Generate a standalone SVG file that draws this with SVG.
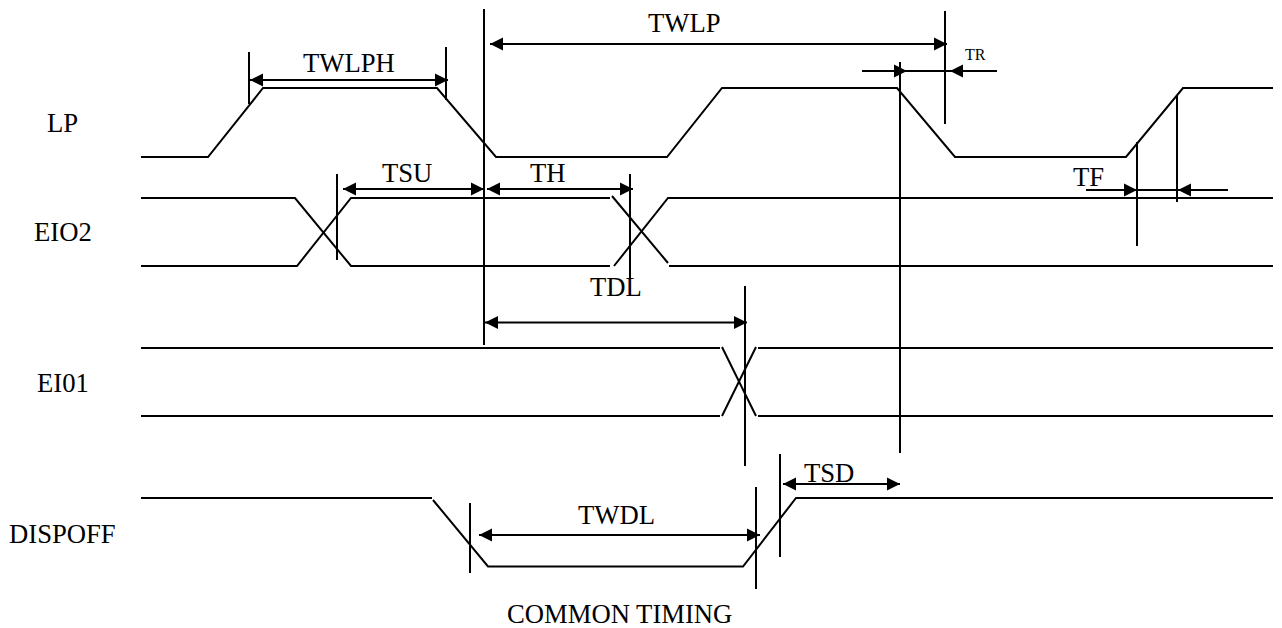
<svg xmlns="http://www.w3.org/2000/svg" width="1282" height="628" viewBox="0 0 1282 628">
<style>
text{font-family:"Liberation Serif","Times New Roman",serif;font-size:26.67px;fill:#000}
.s{fill:none;stroke:#000;stroke-width:2}
.t{fill:none;stroke:#000;stroke-width:2}
.a{fill:none;stroke:#000;stroke-width:2}
</style>
<defs>
<marker id="e" markerUnits="userSpaceOnUse" markerWidth="14" markerHeight="14" refX="13" refY="7" orient="auto-start-reverse"><path d="M0,0.5L13,7L0,13.5Z" fill="#000"/></marker>
</defs>
<rect width="1282" height="628" fill="#fff"/>
<g id="signals">
<path class="s" d="M141,157H208L263,88H437L496,157H667L722,88H897L955,157H1126L1183,88H1273"/>
<path class="s" d="M141,198H295L351,266H610"/>
<path class="s" d="M141,266H297L351,198H610"/>
<path class="s" d="M612,196L668,263M669,266H1273"/>
<path class="s" d="M614,266L668,198H1273"/>
<path class="s" d="M141,348H720M722,347L756,416M758,348H1273"/>
<path class="s" d="M141,416H720M722,416L756,347M758,416H1273"/>
<path class="s" d="M141,498H432M433,500L488,566.500H743L796,498H1273"/>
</g>
<g id="connectors">
<path class="t" d="M484,9V345M249,52V104M446,47V100M337,174V260M630,174V278M945,11V124M900,62V453M1137,142V246M1177,95V202M745,286V466M470,503V573M756,487V589M780,454V557"/>
<path class="a" d="M250,80H448" marker-start="url(#e)" marker-end="url(#e)"/>
<path class="a" d="M490,44H947" marker-start="url(#e)" marker-end="url(#e)"/>
<path class="a" d="M343,189H484" marker-start="url(#e)" marker-end="url(#e)"/>
<path class="a" d="M487,189H633" marker-start="url(#e)" marker-end="url(#e)"/>
<path class="a" d="M485,322.500H747" marker-start="url(#e)" marker-end="url(#e)"/>
<path class="a" d="M479,535H760" marker-start="url(#e)" marker-end="url(#e)"/>
<path class="a" d="M783,484H900" marker-start="url(#e)" marker-end="url(#e)"/>
<path class="a" d="M862,71H907" marker-end="url(#e)"/>
<path class="a" d="M997,71H950" marker-end="url(#e)"/>
<path class="a" d="M907,71H950"/>
<path class="a" d="M1086,190H1137" marker-end="url(#e)"/>
<path class="a" d="M1228,190H1178" marker-end="url(#e)"/>
<path class="a" d="M1137,190H1178"/>
</g>
<g id="labels">
<text x="47" y="132">LP</text>
<text x="34" y="241">EIO2</text>
<text x="37" y="392">EI01</text>
<text x="9" y="543">DISPOFF</text>
<text x="303" y="72">TWLPH</text>
<text x="648" y="32">TWLP</text>
<text x="965" y="60" style="font-size:16px">TR</text>
<text x="382" y="182">TSU</text>
<text x="530" y="182">TH</text>
<text x="590" y="296">TDL</text>
<text x="1073" y="186">TF</text>
<text x="804" y="482">TSD</text>
<text x="578" y="524">TWDL</text>
<text x="507" y="623">COMMON TIMING</text>
</g>
</svg>
